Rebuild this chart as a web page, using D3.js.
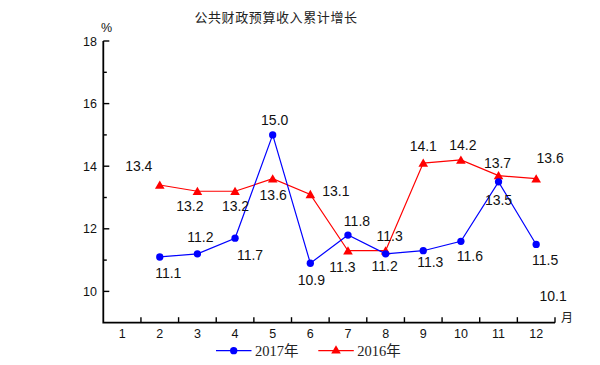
<!DOCTYPE html>
<html>
<head>
<meta charset="utf-8">
<script src="https://cdn.jsdelivr.net/npm/d3@7"></script>
<style>
  body { margin: 0; background: #fff; }
  svg { display: block; }
  .lbl { font-family: "Liberation Sans", Arial, sans-serif; font-size: 14px; fill: #111; }
  .tick-lbl { font-family: "Liberation Sans", Arial, sans-serif; font-size: 12.5px; fill: #111; }
</style>
</head>
<body>
<svg id="chart" width="600" height="365"></svg>
<script>
// Months on the x axis
const months = [1, 2, 3, 4, 5, 6, 7, 8, 9, 10, 11, 12];
const dataMonths = [2, 3, 4, 5, 6, 7, 8, 9, 10, 11, 12];
// cumulative growth, %
const values2017 = [11.1, 11.2, 11.7, 15.0, 10.9, 11.8, 11.2, 11.3, 11.6, 13.5, 11.5];
const values2016 = [13.4, 13.2, 13.2, 13.6, 13.1, 11.3, 11.3, 14.1, 14.2, 13.7, 13.6];
const yTicks = [10, 12, 14, 16, 18];
const yMinorTicks = [11, 13, 15, 17];
const seriesNames = ["2017年", "2016年"];
// stray label sitting below the December points
const extraLabel = { month: 12, value: 10.1, text: "10.1" };

// label nudges (dx, dy) relative to each point
const offsets2017 = [[8.5, 16], [3, -17], [15, 17], [2, -14.5], [1, 17], [9, -14], [-1, 12], [7, 11], [9, 14.5], [0, 18], [9, 15.5]];
const offsets2016 = [[-21, -18.5], [-7.5, 14.5], [0.5, 15], [0.5, 16.5], [25.5, -3], [-5.5, 16.5], [4, -15], [0, -17], [2, -15], [-1, -12.5], [14, -20.5]];

const svg = d3.select("#chart");
const plotL = 103.3, plotR = 555, plotT = 41, plotB = 322.7;

const x = d3.scaleBand().domain(months).range([plotL, plotR]).padding(0);
const y = d3.scaleLinear().domain([9, 18]).range([plotB, plotT]);
const cx = m => x(m) + x.bandwidth() / 2;

// title
svg.append("text")
  .attr("x", 276).attr("y", 22)
  .attr("text-anchor", "middle")
  .style("font-family", "'Noto Sans CJK SC', sans-serif")
  .style("font-size", "13px")
  .style("letter-spacing", "0.6px")
  .style("fill", "#222")
  .text("公共财政预算收入累计增长");

// axes
const axisG = svg.append("g").attr("stroke", "#000").attr("stroke-width", 1.8).attr("fill", "none");
axisG.append("path").attr("d", `M${plotL},${plotT}V${plotB}H${plotR}`);

// y ticks (inward)
axisG.selectAll(".ymaj").data(yTicks).join("line")
  .attr("x1", plotL).attr("x2", plotL + 6)
  .attr("y1", d => y(d)).attr("y2", d => y(d))
  .attr("stroke-width", 1.4);
axisG.selectAll(".ymin").data(yMinorTicks).join("line")
  .attr("x1", plotL).attr("x2", plotL + 3.5)
  .attr("y1", d => y(d)).attr("y2", d => y(d))
  .attr("stroke-width", 1.4);

// x ticks at band boundaries (inward)
axisG.selectAll(".xt").data(months).join("line")
  .attr("x1", d => x(d) + x.step()).attr("x2", d => x(d) + x.step())
  .attr("y1", plotB).attr("y2", plotB - 5.5)
  .attr("stroke-width", 1.4);

svg.selectAll(".ylab").data(yTicks).join("text")
  .attr("class", "tick-lbl")
  .attr("x", 97).attr("y", d => y(d) + 4.5)
  .attr("text-anchor", "end")
  .text(d => d);

svg.selectAll(".xlab").data(months).join("text")
  .attr("class", "tick-lbl")
  .attr("x", d => cx(d)).attr("y", 338)
  .attr("text-anchor", "middle")
  .text(d => d);

svg.append("text").attr("class", "tick-lbl")
  .attr("x", 106.5).attr("y", 31.5).attr("text-anchor", "middle").text("%");
svg.append("text")
  .attr("x", 567).attr("y", 322)
  .attr("text-anchor", "middle")
  .style("font-family", "'Noto Sans CJK SC', sans-serif")
  .style("font-size", "12px").style("fill", "#222")
  .text("月");

// series
const series = [
  { name: seriesNames[0], values: values2017, offsets: offsets2017, color: "#0000ff", marker: d3.symbolCircle, size: 42 },
  { name: seriesNames[1], values: values2016, offsets: offsets2016, color: "#ff0000", marker: d3.symbolTriangle, size: 40 }
];

const line = d3.line().x(d => cx(d.m)).y(d => y(d.v));

// draw 2016 first so 2017 sits on top like the original
series.slice().reverse().forEach(s => {
  const pts = dataMonths.map((m, i) => ({ m, v: s.values[i], off: s.offsets[i] }));
  svg.append("path").datum(pts)
    .attr("d", line)
    .attr("fill", "none")
    .attr("stroke", s.color)
    .attr("stroke-width", 1.2);
  svg.selectAll(null).data(pts).join("path")
    .attr("transform", d => `translate(${cx(d.m)},${y(d.v) + (s.marker === d3.symbolTriangle ? 1 : 0)})`)
    .attr("d", d3.symbol().type(s.marker).size(s.size))
    .attr("fill", s.color);
});

series.forEach(s => {
  const pts = dataMonths.map((m, i) => ({ m, v: s.values[i], off: s.offsets[i] }));
  svg.selectAll(null).data(pts).join("text")
    .attr("class", "lbl")
    .attr("x", d => cx(d.m) + d.off[0])
    .attr("y", d => y(d.v) + d.off[1] + 5)
    .attr("text-anchor", "middle")
    .text(d => d.v.toFixed(1));
});

svg.append("text").attr("class", "lbl")
  .attr("x", cx(extraLabel.month) + 17)
  .attr("y", y(extraLabel.value) + 8 + 5)
  .attr("text-anchor", "middle")
  .text(extraLabel.text);

// legend
const legendItems = [
  { x0: 216, color: "#0000ff", marker: d3.symbolCircle, size: 42, text: seriesNames[0] },
  { x0: 318.3, color: "#ff0000", marker: d3.symbolTriangle, size: 40, text: seriesNames[1] }
];
const ly = 350.7;
legendItems.forEach(it => {
  const g = svg.append("g");
  g.append("line").attr("x1", it.x0).attr("x2", it.x0 + 35.5)
    .attr("y1", ly).attr("y2", ly)
    .attr("stroke", it.color).attr("stroke-width", 1.2);
  g.append("path")
    .attr("transform", `translate(${it.x0 + 17.7},${ly})`)
    .attr("d", d3.symbol().type(it.marker).size(it.size))
    .attr("fill", it.color);
  g.append("text")
    .attr("x", it.x0 + 39).attr("y", ly + 5)
    .style("font-family", "'Liberation Serif', 'Noto Sans CJK SC', serif")
    .style("font-size", "14.5px").style("fill", "#222")
    .text(it.text);
});
</script>
</body>
</html>
